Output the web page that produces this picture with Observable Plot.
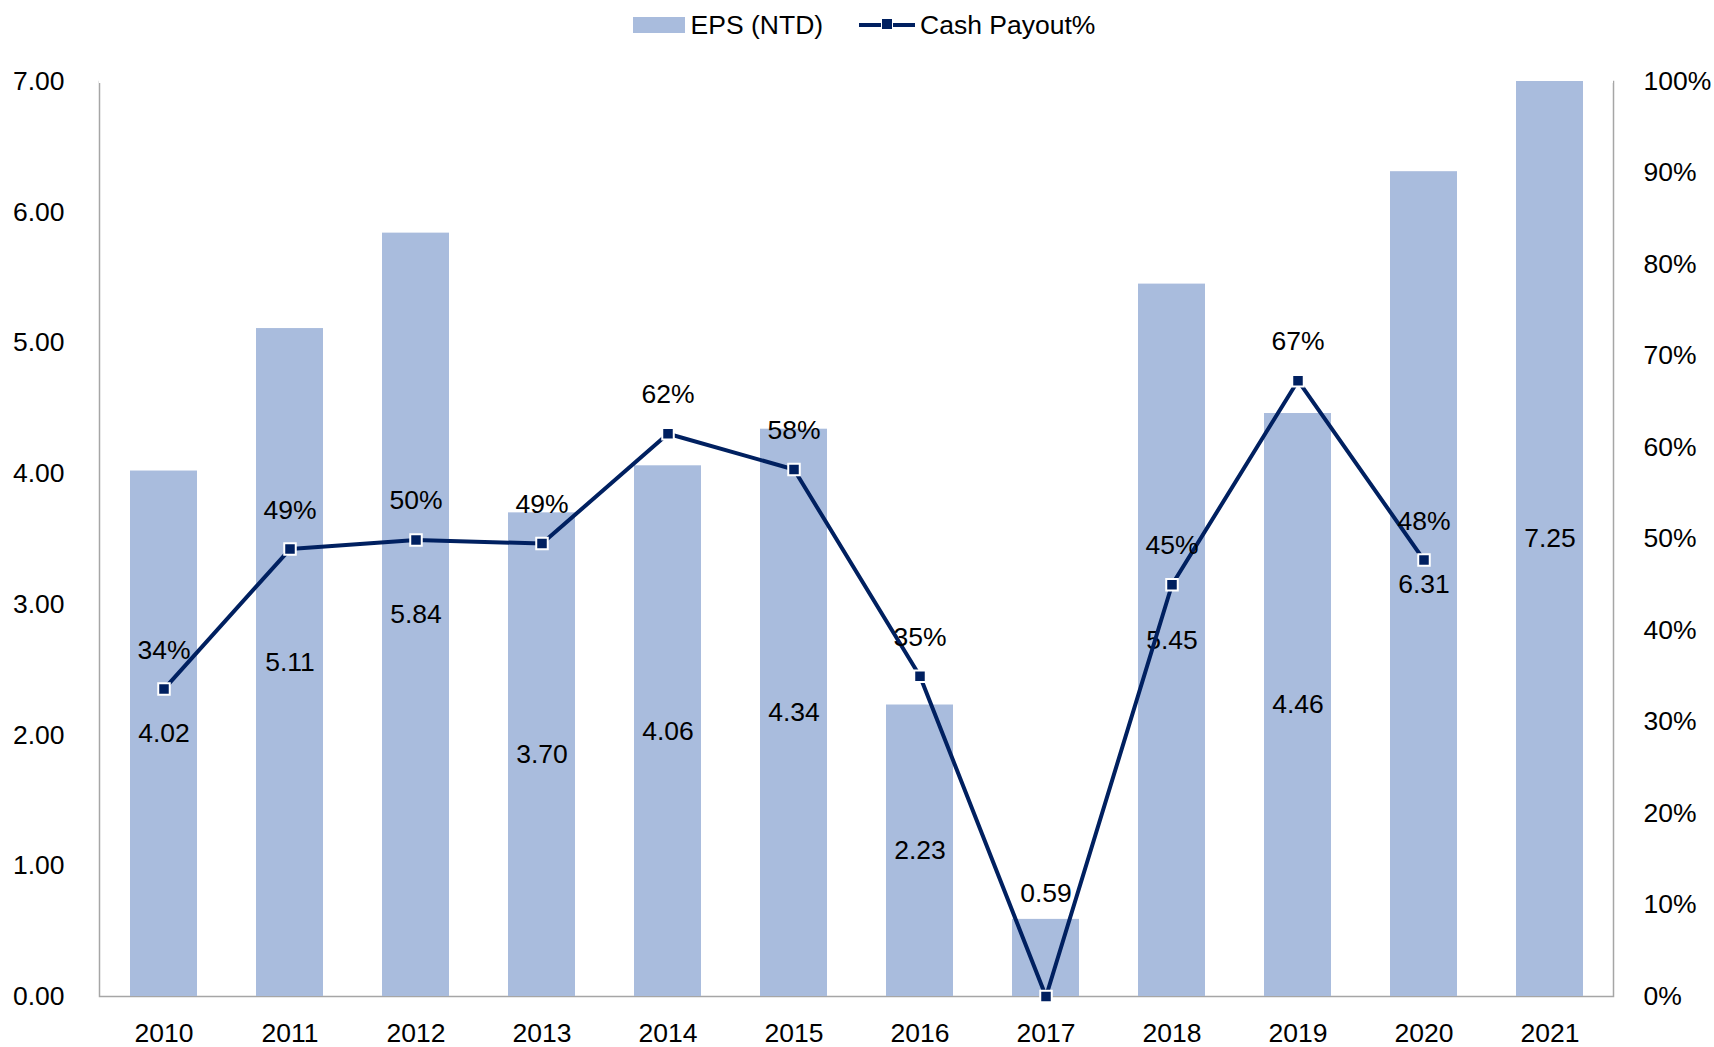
<!DOCTYPE html>
<html>
<head>
<meta charset="utf-8">
<script src="https://cdn.jsdelivr.net/npm/d3@7"></script>
<script src="https://cdn.jsdelivr.net/npm/@observablehq/plot@0.6"></script>
<style>
  html, body { margin: 0; padding: 0; background: #fff; overflow: hidden; }
  body { width: 1714px; height: 1047px; font-family: "Liberation Sans", Arial, sans-serif; }
  #legend { height: 50px; display: flex; align-items: center; justify-content: center; font-size: 26.5px; color: #000; padding-left: 14px; box-sizing: border-box; }
  .sw { width: 52px; height: 16px; background: #a9bcdd; margin-right: 6px; }
  .ln { position: relative; width: 56px; height: 4px; background: #002060; margin-left: 36px; margin-right: 5px; }
  .ln::after { content: ""; position: absolute; left: 22px; top: -5px; width: 12px; height: 12px; background: #002060; border: 1px solid #fff; box-sizing: border-box; }
  #chart svg { display: block; }
</style>
</head>
<body>
<div id="legend"><div class="sw"></div><span>EPS (NTD)</span><div class="ln"></div><span>Cash Payout%</span></div>
<div id="chart"></div>
<script>
const years = ["2010","2011","2012","2013","2014","2015","2016","2017","2018","2019","2020","2021"];
const eps = [4.02, 5.11, 5.84, 3.70, 4.06, 4.34, 2.23, 0.59, 5.45, 4.46, 6.31, 7.25];
const payout = [33.6, 48.9, 49.9, 49.5, 61.5, 57.6, 35.0, 0, 45.0, 67.3, 47.7, null];
const payoutLabels = ["34%","49%","50%","49%","62%","58%","35%","","45%","67%","48%",""];
const leftTicks = [0, 1, 2, 3, 4, 5, 6, 7];
const rightTicks = [0, 10, 20, 30, 40, 50, 60, 70, 80, 90, 100];

const yMax = 7;
const barData = years.map((y, i) => ({year: y, eps: eps[i]}));
const lineData = years.map((y, i) => ({year: y, p: payout[i], label: payoutLabels[i]})).filter(d => d.p != null);
const toY = p => p / 100 * yMax;
// short bars get their label just above the bar, others at the bar's middle
const inside = barData.filter(d => d.eps >= 1);
const above = barData.filter(d => d.eps < 1);

const chart = Plot.plot({
  width: 1714,
  height: 997,
  marginTop: 31,
  marginBottom: 51,
  marginLeft: 99,
  marginRight: 101,
  style: {fontFamily: '"Liberation Sans", Arial, sans-serif', fontSize: "26.5px", color: "#000", background: "#fff"},
  x: {domain: years, paddingInner: 0.47, paddingOuter: 0.235, axis: null},
  y: {domain: [0, yMax], axis: null},
  marks: [
    Plot.frame({stroke: "#a6a6a6", strokeWidth: 1.5}),
    Plot.ruleY([yMax], {stroke: "#fff", strokeWidth: 3}),
    Plot.barY(barData, {x: "year", y: "eps", fill: "#a9bcdd", clip: true}),
    Plot.text(inside, {x: "year", y: d => Math.min(d.eps, yMax) / 2, text: d => d.eps.toFixed(2), fill: "#000", lineAnchor: "middle"}),
    Plot.text(above, {x: "year", y: "eps", text: d => d.eps.toFixed(2), fill: "#000", lineAnchor: "bottom", dy: -17}),
    Plot.line(lineData, {x: "year", y: d => toY(d.p), stroke: "#002060", strokeWidth: 4}),
    Plot.dot(lineData, {x: "year", y: d => toY(d.p), symbol: "square", r: 6.5, fill: "#002060", stroke: "#fff", strokeWidth: 2}),
    Plot.text(lineData, {x: "year", y: d => toY(d.p), text: "label", dy: -39, fill: "#000", lineAnchor: "middle"}),
    Plot.axisY(leftTicks, {anchor: "left", tickSize: 0, tickPadding: 35, tickFormat: d => d.toFixed(2), label: null}),
    Plot.axisY(rightTicks.map(toY), {anchor: "right", tickSize: 0, tickPadding: 30, tickFormat: d => Math.round(d / yMax * 100) + "%", label: null}),
    Plot.axisX({tickSize: 0, tickPadding: 27, label: null})
  ]
});
document.getElementById("chart").appendChild(chart);
</script>
</body>
</html>
